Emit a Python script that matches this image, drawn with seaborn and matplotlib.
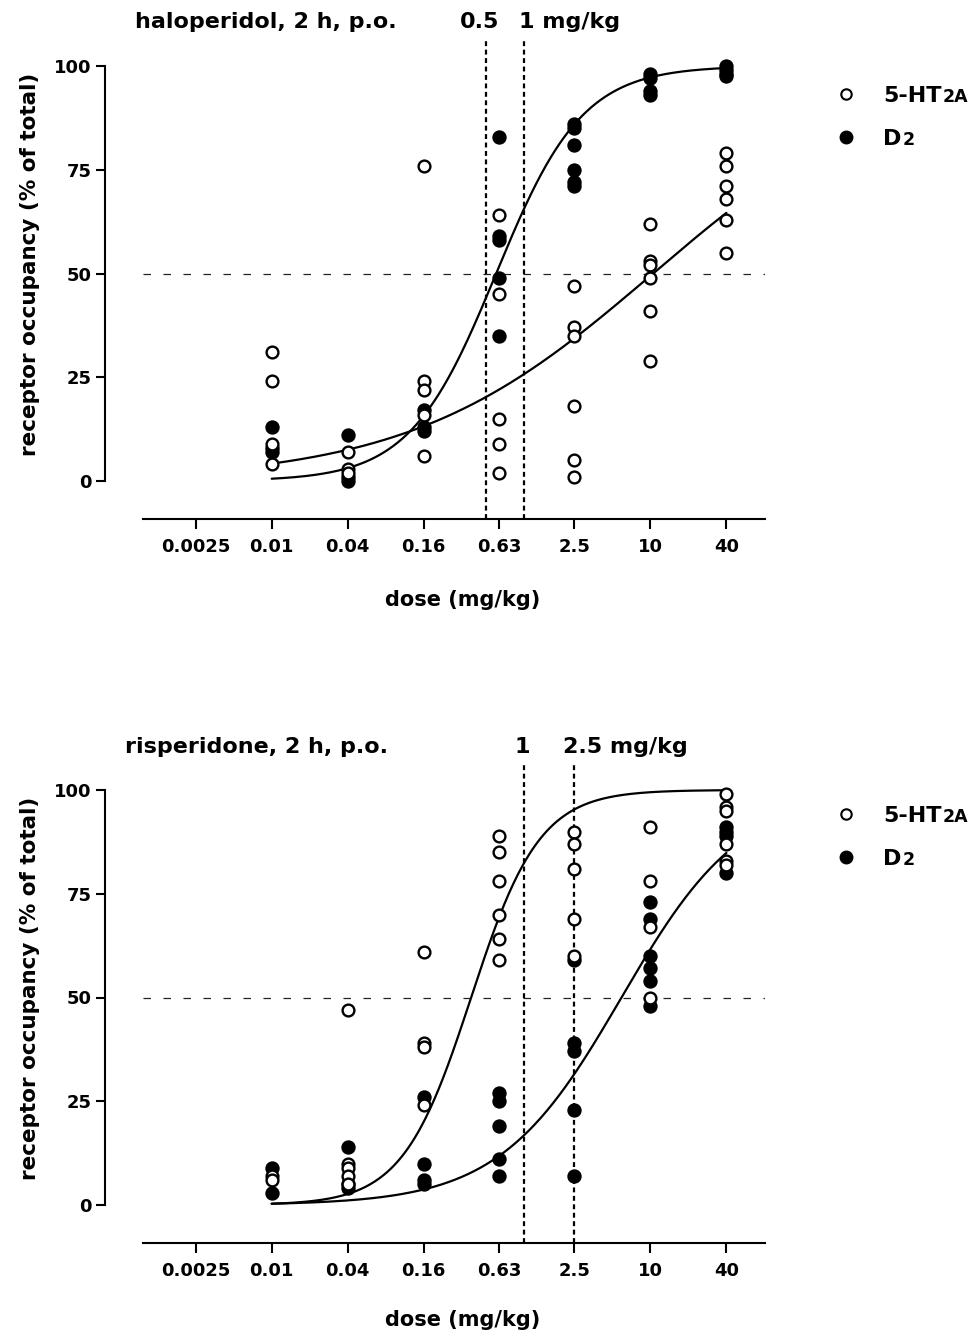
import numpy as np
import pandas as pd
import matplotlib
matplotlib.use("Agg")
import matplotlib.pyplot as plt
import seaborn as sns
from matplotlib.lines import Line2D

# ---------------- data ----------------
DOSE_TICKS = [0.0025, 0.01, 0.04, 0.16, 0.63, 2.5, 10, 40]
DOSE_LABELS = ["0.0025", "0.01", "0.04", "0.16", "0.63", "2.5", "10", "40"]
DOSES = [0.01, 0.04, 0.16, 0.63, 2.5, 10, 40]

# haloperidol, receptor occupancy (%) per dose
HALO_5HT2A = [[31, 24, 9, 4], [7, 3, 2], [76, 24, 22, 16, 6], [64, 45, 15, 9, 2],
              [47, 37, 35, 18, 5, 1], [62, 53, 52, 49, 41, 29], [79, 76, 71, 68, 63, 55]]
HALO_D2 = [[13, 8, 7], [11, 1, 0], [17, 13, 12], [83, 59, 58, 49, 35],
           [86, 85, 81, 75, 72, 71], [98, 97, 94, 93], [100, 99, 98, 97.5]]

# risperidone, receptor occupancy (%) per dose
RISP_5HT2A = [[7, 6], [47, 10, 9, 7, 5], [61, 39, 38, 24], [89, 85, 78, 70, 64, 59],
              [90, 87, 81, 69, 60], [91, 78, 67, 50], [99, 96, 95, 87, 83, 82]]
RISP_D2 = [[9, 3], [14, 5, 4], [26, 10, 6, 5], [27, 25, 19, 11, 7],
           [59, 39, 37, 23, 7], [73, 69, 60, 57, 54, 48], [91, 90, 89, 80]]

# fitted sigmoid parameters (ED50 mg/kg, Hill slope)
HALO_5HT2A_FIT = (10.5, 0.45)
HALO_D2_FIT = (0.60, 1.27)
RISP_5HT2A_FIT = (0.38, 1.60)
RISP_D2_FIT = (5.9, 0.90)

HALO_MARKS = [0.5, 1]
RISP_MARKS = [1, 2.5]

# ---------------- style ----------------
sns.set_theme(style="ticks")
plt.rcParams["font.family"] = ["DejaVu Sans"]
plt.rcParams["font.weight"] = "bold"
plt.rcParams["axes.labelweight"] = "bold"
for k in ("text.color", "axes.labelcolor", "xtick.color", "ytick.color", "axes.edgecolor"):
    plt.rcParams[k] = "black"

W, H = 979, 1333
fig = plt.figure(figsize=(W / 100, H / 100), dpi=100)


def fx(px):
    return px / W


def fy(py):
    return 1 - py / H


def long_df(groups):
    rows = []
    for d, vals in zip(DOSES, groups):
        for v in vals:
            rows.append((d, v))
    return pd.DataFrame(rows, columns=["dose", "occ"])


def hill(x, p):
    ed50, n = p
    return 100.0 / (1.0 + (ed50 / x) ** n)


x_lo = 0.0025 * 4 ** ((143 - 195.7) / 76.0)
x_hi = 0.0025 * 4 ** ((765 - 195.7) / 76.0)


def panel(top_px, zero_px, ht, d2, fit_ht, fit_d2, marks):
    axis_px = zero_px + 38
    ax = fig.add_axes([fx(143), fy(axis_px), fx(765) - fx(143), (axis_px - top_px) / H])
    ax.set_xscale("log", base=4)
    ax.set_xlim(x_lo, x_hi)
    ax.set_ylim(-(axis_px - zero_px) / 4.15, (zero_px - top_px) / 4.15)

    ax.axhline(50, color="#222222", lw=0.9, dashes=(6, 10), zorder=1)
    for m in marks:
        ax.axvline(m, color="black", lw=1.6, dashes=(2.2, 1.6), zorder=1)

    xs = np.geomspace(0.01, 40, 300)
    sns.lineplot(x=xs, y=hill(xs, fit_ht), color="black", lw=1.6, ax=ax, zorder=2)
    sns.lineplot(x=xs, y=hill(xs, fit_d2), color="black", lw=1.6, ax=ax, zorder=2)

    sns.scatterplot(data=long_df(d2), x="dose", y="occ", marker="o", s=80,
                    color="black", edgecolor="black", linewidth=1.4, ax=ax, zorder=3,
                    clip_on=False)
    sns.scatterplot(data=long_df(ht), x="dose", y="occ", marker="o", s=72,
                    color="white", edgecolor="black", linewidth=1.7, ax=ax, zorder=4,
                    clip_on=False)

    ax.set_xticks(DOSE_TICKS)
    ax.set_xticklabels(DOSE_LABELS)
    ax.xaxis.set_minor_locator(matplotlib.ticker.NullLocator())
    ax.set_yticks([0, 25, 50, 75, 100])
    ax.set_yticklabels(["0", "25", "50", "75", "100"])
    ax.tick_params(axis="x", length=7, width=1.5, pad=7, labelsize=13, colors="black")
    ax.tick_params(axis="y", length=6.5, width=1.5, pad=3, labelsize=13, colors="black")
    for lab in ax.get_xticklabels() + ax.get_yticklabels():
        lab.set_fontweight("bold")
    sns.despine(ax=ax)
    ax.spines["left"].set_bounds(0, 100)
    ax.spines["left"].set_position(("outward", 38 * 0.72))
    ax.spines["left"].set_linewidth(1.5)
    ax.spines["bottom"].set_linewidth(1.5)
    ax.spines["left"].set_color("black")
    ax.spines["bottom"].set_color("black")
    ax.set_xlabel("")
    ax.set_ylabel("")
    ax.patch.set_alpha(0)
    return ax


ax1 = panel(40, 481, HALO_5HT2A, HALO_D2, HALO_5HT2A_FIT, HALO_D2_FIT, HALO_MARKS)
ax2 = panel(764, 1205, RISP_5HT2A, RISP_D2, RISP_5HT2A_FIT, RISP_D2_FIT, RISP_MARKS)

TXT = dict(fontsize=16, fontweight="bold", color="black")

# titles
fig.text(fx(135), fy(22), "haloperidol, 2 h, p.o.", ha="left", va="center", **TXT)
fig.text(fx(480), fy(22), "0.5", ha="center", va="center", **TXT)
fig.text(fx(519), fy(22), "1 mg/kg", ha="left", va="center", **TXT)

fig.text(fx(125), fy(747), "risperidone, 2 h, p.o.", ha="left", va="center", **TXT)
fig.text(fx(522), fy(747), "1", ha="center", va="center", **TXT)
fig.text(fx(563), fy(747), "2.5 mg/kg", ha="left", va="center", **TXT)

# axis labels
for cy in (264, 988):
    fig.text(fx(30), fy(cy), "receptor occupancy (% of total)", rotation=90,
             ha="center", va="center", fontsize=15.5, fontweight="bold", color="black")
for cy in (600, 1320):
    fig.text(fx(463), fy(cy), "dose (mg/kg)", ha="center", va="center",
             fontsize=15, fontweight="bold", color="black")

# legends
renderer = fig.canvas.get_renderer()


def legend(y_open, y_fill):
    fig.add_artist(Line2D([fx(846)], [fy(y_open)], marker="o", ms=7.5, mfc="white",
                          mec="black", mew=1.5, transform=fig.transFigure))
    fig.add_artist(Line2D([fx(846)], [fy(y_fill)], marker="o", ms=9, mfc="black",
                          mec="black", transform=fig.transFigure))
    t1 = fig.text(fx(883), fy(y_open) - 8 / H, "5-HT", ha="left", va="baseline",
                  fontsize=16, fontweight="bold", color="black")
    t2 = fig.text(fx(883), fy(y_fill) - 8 / H, "D", ha="left", va="baseline",
                  fontsize=16, fontweight="bold", color="black")
    for t, s in ((t1, "2A"), (t2, "2")):
        bb = t.get_window_extent(renderer)
        fig.text(bb.x1 / W + 1 / W, t.get_position()[1], s, ha="left", va="baseline",
                 fontsize=12.5, fontweight="bold", color="black")


legend(94, 137)
legend(814, 857)

fig.savefig("out.png", dpi=100)
